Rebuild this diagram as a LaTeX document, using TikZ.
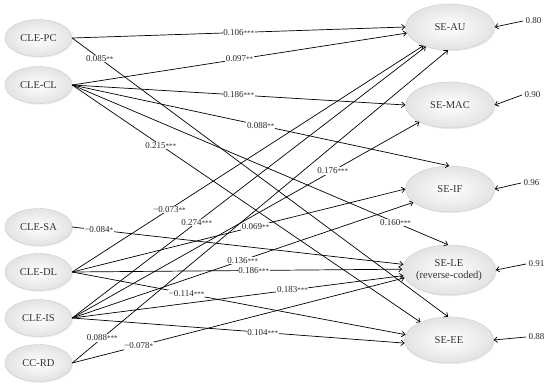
\documentclass[tikz,border=0pt]{standalone}
\usepackage{fontspec}
\setmainfont{Liberation Serif}
\usetikzlibrary{arrows.meta,shapes.geometric,shadows}
\newcommand{\stars}[1]{{\fontsize{7}{7}\selectfont #1}}
\begin{document}
\begin{tikzpicture}[x=1pt,y=-1pt,
  lat/.style={ellipse, draw=gray!40, line width=0.4pt, inner color=white, outer color=gray!22,
    drop shadow={opacity=0.15, shadow xshift=1pt, shadow yshift=-1.2pt},
    text=black!80, font=\fontsize{10.5}{12}\selectfont, inner sep=0pt, align=center},
  lnode/.style={lat, minimum width=67pt, minimum height=37pt},
  rnode/.style={lat, minimum width=89pt, minimum height=46pt},
  conn/.style={line width=0.7pt, -{Straight Barb[length=3.2pt,width=5.5pt]}},
  coef/.style={font=\fontsize{9}{10}\selectfont, text=black!85, fill=white, inner sep=0.6pt},
  errl/.style={font=\fontsize{9}{10}\selectfont, text=black!85, anchor=west, inner sep=2.5pt}
]
\useasboundingbox (0,0) rectangle (550,389);

% left (exogenous) variables
\node[lnode] (pc) at (38.5,38)  {CLE-PC};
\node[lnode] (cl) at (38.5,85)  {CLE-CL};
\node[lnode] (sa) at (38.5,227) {CLE-SA};
\node[lnode] (dl) at (38.5,272) {CLE-DL};
\node[lnode] (is) at (38.5,318) {CLE-IS};
\node[lnode] (rd) at (38.5,363) {CC-RD};

% right (endogenous) variables
\node[rnode] (au)  at (450,27)  {SE-AU};
\node[rnode] (mac) at (450,105) {SE-MAC};
\node[rnode] (if)  at (450,189) {SE-IF};
\node[rnode, minimum height=50pt] (le) at (449,270) {SE-LE\\(reverse-coded)};
\node[rnode] (ee)  at (449,340) {SE-EE};

% paths
\draw[conn] (pc.east) -- coordinate[pos=.50] (l1)  (au.180);
\draw[conn] (pc.east) -- coordinate[pos=.073] (l2) (ee.92);
\draw[conn] (cl.east) -- coordinate[pos=.50] (l3)  (au.188);
\draw[conn] (cl.east) -- coordinate[pos=.50] (l4)  (mac.180);
\draw[conn] (cl.east) -- coordinate[pos=.50] (l5)  (if.92);
\draw[conn] (cl.east) -- coordinate[pos=.86] (l6)  (le.92);
\draw[conn] (cl.east) -- coordinate[pos=.254] (l7) (ee.148);
\draw[conn] (sa.east) -- coordinate[pos=.08] (l8)  (le.173);
\draw[conn] (dl.east) -- coordinate[pos=.277] (l9) (au.215);
\draw[conn] (dl.east) -- coordinate[pos=.55] (l10) (if.180);
\draw[conn] (dl.east) -- coordinate[pos=.55] (l11) (le.179);
\draw[conn] (dl.east) -- coordinate[pos=.343] (l12) (ee.173);
\draw[conn] (is.east) -- coordinate[pos=.352] (l13) (au.219);
\draw[conn] (is.east) -- coordinate[pos=.75] (l14) (mac.209);
\draw[conn] (is.east) -- coordinate[pos=.50] (l15) (if.200);
\draw[conn] (is.east) -- coordinate[pos=.665] (l16) (le.187);
\draw[conn] (is.east) -- coordinate[pos=.573] (l17) (ee.184);
\draw[conn] (rd.east) -- coordinate[pos=.08] (l18) (au.265);
\draw[conn] (rd.east) -- coordinate[pos=.20] (l19) (le.190.5);

% coefficients
\node[coef] at (l1)  {0.106\stars{***}};
\node[coef] at (l2)  {0.085\stars{**}};
\node[coef] at (l3)  {0.097\stars{**}};
\node[coef] at (l4)  {0.186\stars{***}};
\node[coef] at (l5)  {0.088\stars{**}};
\node[coef] at (l6)  {0.160\stars{***}};
\node[coef] at (l7)  {0.215\stars{***}};
\node[coef] at (l8)  {−0.084\stars{*}};
\node[coef] at (l9)  {−0.073\stars{**}};
\node[coef] at (l10) {0.069\stars{**}};
\node[coef] at (l11) {0.186\stars{***}};
\node[coef] at (l12) {−0.114\stars{***}};
\node[coef] at (l13) {0.274\stars{***}};
\node[coef] at (l14) {0.176\stars{***}};
\node[coef] at (l15) {0.136\stars{***}};
\node[coef] at (l16) {0.183\stars{***}};
\node[coef] at (l17) {0.104\stars{***}};
\node[coef] at (l18) {0.088\stars{***}};
\node[coef] at (l19) {−0.078\stars{*}};

% error terms
\node[errl] (e1) at (523,21)  {0.80};
\node[errl] (e2) at (522,95)  {0.90};
\node[errl] (e3) at (521,183) {0.96};
\node[errl] (e4) at (526,264) {0.91};
\node[errl] (e5) at (526,337) {0.88};
\draw[conn] (e1.west) -- (au.east);
\draw[conn] (e2.west) -- (mac.east);
\draw[conn] (e3.west) -- (if.east);
\draw[conn] (e4.west) -- (le.east);
\draw[conn] (e5.west) -- (ee.east);
\end{tikzpicture}
\end{document}
